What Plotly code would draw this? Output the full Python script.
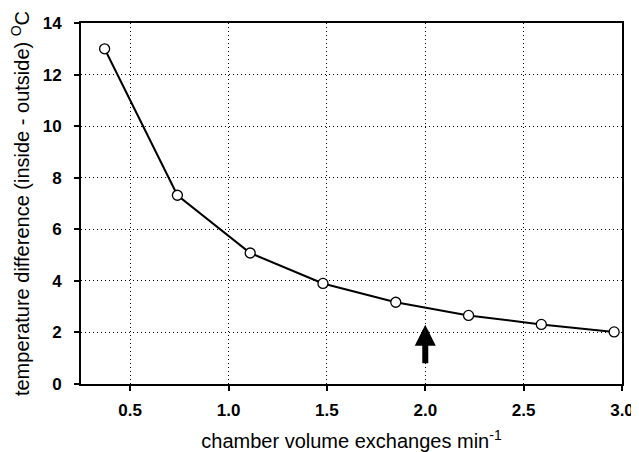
import plotly.graph_objects as go

exchanges = [0.37, 0.74, 1.11, 1.48, 1.85, 2.22, 2.59, 2.96]
temp_diff = [13.0, 7.32, 5.08, 3.9, 3.17, 2.66, 2.31, 2.02]
arrow_x = 2.0
arrow_tail_y = 0.75
arrow_tip_y = 2.3
x_ticks = [0.5, 1.0, 1.5, 2.0, 2.5, 3.0]
x_tick_labels = ["0.5", "1.0", "1.5", "2.0", "2.5", "3.0"]
y_ticks = [0, 2, 4, 6, 8, 10, 12, 14]
y_tick_labels = ["0", "2", "4", "6", "8", "10", "12", "14"]

font_family = "Liberation Sans, Arial, sans-serif"

fig = go.Figure()
fig.add_trace(go.Scatter(
    x=exchanges, y=temp_diff, mode="lines+markers",
    line=dict(color="black", width=2),
    marker=dict(symbol="circle", size=10, color="white",
                line=dict(color="black", width=1.3)),
    showlegend=False,
))

fig.add_annotation(
    x=arrow_x, y=arrow_tip_y, ax=arrow_x, ay=arrow_tail_y,
    xref="x", yref="y", axref="x", ayref="y",
    text="", showarrow=True, arrowhead=2, arrowsize=0.7,
    arrowwidth=6, arrowcolor="black",
)

axis_common = dict(
    showline=True, linecolor="black", linewidth=2, mirror=True,
    ticks="outside", tickwidth=1.5, tickcolor="black",
    showgrid=True, gridcolor="black", gridwidth=1, griddash="1px,3px",
    zeroline=False, automargin=False,
    tickfont=dict(family=font_family, size=17, color="black", weight="bold"),
)

fig.update_xaxes(
    range=[0.25, 3.0], tickvals=x_ticks,
    ticktext=["<b>%s</b>" % t for t in x_tick_labels],
    ticklen=5, ticklabelstandoff=5,
    title=dict(text="chamber volume exchanges min<sup>-1</sup>",
               font=dict(family=font_family, size=20, color="black"), standoff=28),
    **axis_common,
)
fig.update_yaxes(
    range=[0, 14], tickvals=y_ticks,
    ticktext=["<b>%s</b>" % t for t in y_tick_labels],
    ticklen=5, ticklabelstandoff=9,
    title=dict(text="temperature difference (inside - outside) <sup>O</sup>C",
               font=dict(family=font_family, size=20, color="black"), standoff=14),
    **axis_common,
)

# the page adds an 8 px body margin, so the figure is sized to fit the window
fig.update_layout(
    width=631, height=444,
    margin=dict(l=73, r=17, t=15, b=68),
    paper_bgcolor="white", plot_bgcolor="white",
)

fig.write_html("out.html")
